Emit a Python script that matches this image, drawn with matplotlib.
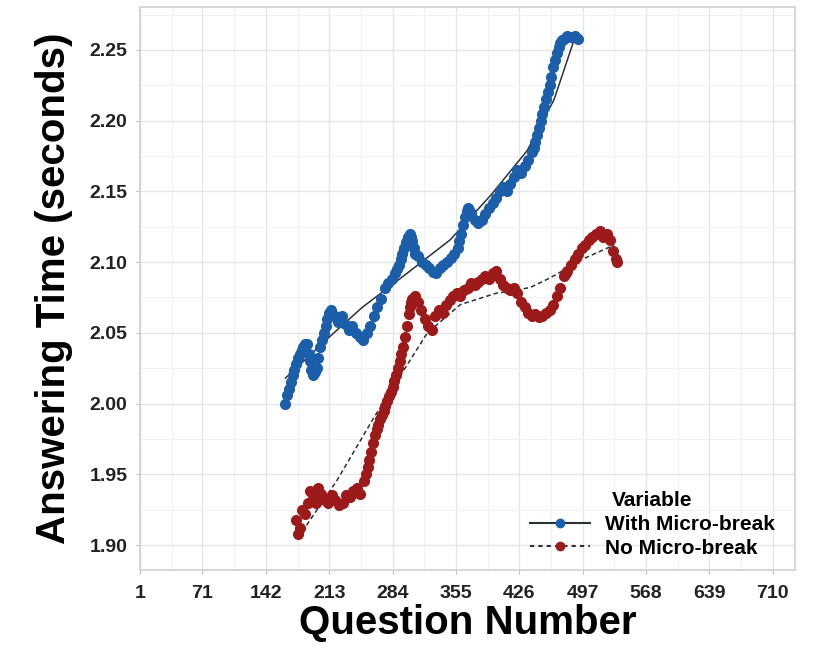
import numpy as np
import matplotlib
matplotlib.use("Agg")
import matplotlib.pyplot as plt
from matplotlib.ticker import FixedLocator
from matplotlib.lines import Line2D

plt.rcParams['font.family'] = ['Liberation Sans', 'DejaVu Sans']
plt.rcParams['font.weight'] = 'bold'

# With Micro-break (blue)
q_with = [164, 166, 168, 170, 172, 174, 176, 178, 180, 182, 184, 186, 188, 190, 191,
          193, 195, 197, 199, 201, 203, 205, 207, 209, 211, 213, 215, 219, 223, 227,
          231, 235, 239, 243, 247, 251, 255, 259, 263, 267, 271, 275, 279, 283, 287,
          289, 291, 293, 295, 297, 299, 301, 303, 305, 306, 308, 309, 313, 317, 321,
          325, 329, 333, 337, 341, 345, 349, 353, 357, 359, 361, 363, 365, 367, 368,
          370, 372, 376, 380, 384, 388, 392, 396, 400, 404, 408, 412, 416, 420, 424,
          428, 432, 436, 440, 442, 444, 446, 448, 450, 452, 454, 456, 458, 460, 462,
          464, 466, 468, 470, 472, 474, 476, 480, 484, 488, 492]
t_with = [2.000, 2.006, 2.010, 2.015, 2.020, 2.024, 2.028, 2.032, 2.035, 2.038, 2.040,
          2.042, 2.042, 2.035, 2.030, 2.024, 2.020, 2.022, 2.025, 2.032, 2.040, 2.045,
          2.050, 2.055, 2.060, 2.064, 2.066, 2.062, 2.058, 2.062, 2.056, 2.052, 2.055,
          2.050, 2.047, 2.045, 2.050, 2.055, 2.062, 2.068, 2.074, 2.082, 2.085, 2.088,
          2.092, 2.095, 2.098, 2.102, 2.106, 2.110, 2.114, 2.118, 2.120, 2.118, 2.115,
          2.110, 2.106, 2.104, 2.100, 2.098, 2.096, 2.093, 2.092, 2.096, 2.098, 2.100,
          2.103, 2.106, 2.110, 2.115, 2.120, 2.126, 2.132, 2.136, 2.138, 2.137, 2.135,
          2.130, 2.128, 2.130, 2.134, 2.138, 2.142, 2.145, 2.150, 2.153, 2.150, 2.155,
          2.160, 2.165, 2.163, 2.168, 2.172, 2.178, 2.181, 2.185, 2.190, 2.195, 2.200,
          2.205, 2.210, 2.215, 2.220, 2.225, 2.231, 2.238, 2.243, 2.248, 2.252, 2.255,
          2.257, 2.258, 2.260, 2.259, 2.260, 2.258]

# No Micro-break (red)
q_no = [176, 178, 180, 183, 186, 189, 192, 195, 198, 201, 204, 208, 212, 216, 220,
        224, 228, 232, 236, 240, 244, 248, 252, 254, 256, 258, 260, 262, 264, 266,
        268, 270, 272, 274, 276, 278, 280, 282, 284, 286, 288, 290, 292, 294, 296,
        298, 300, 302, 303, 305, 306, 309, 312, 316, 320, 324, 328, 332, 336, 340,
        344, 348, 352, 356, 360, 364, 368, 372, 376, 380, 384, 388, 392, 396, 400,
        404, 408, 412, 416, 420, 424, 428, 432, 436, 440, 444, 448, 452, 456, 460,
        464, 468, 472, 476, 478, 480, 484, 488, 492, 496, 500, 504, 508, 512, 516,
        520, 524, 528, 531, 534, 536]
t_no = [1.918, 1.908, 1.912, 1.925, 1.922, 1.930, 1.938, 1.935, 1.930, 1.940, 1.936,
        1.932, 1.930, 1.935, 1.932, 1.928, 1.930, 1.935, 1.934, 1.938, 1.940, 1.936,
        1.945, 1.950, 1.955, 1.960, 1.966, 1.972, 1.978, 1.982, 1.985, 1.989, 1.992,
        1.995, 1.998, 2.002, 2.005, 2.008, 2.012, 2.016, 2.020, 2.025, 2.030, 2.035,
        2.040, 2.047, 2.055, 2.063, 2.068, 2.072, 2.074, 2.076, 2.072, 2.066, 2.060,
        2.055, 2.052, 2.062, 2.066, 2.064, 2.070, 2.073, 2.076, 2.078, 2.076, 2.080,
        2.082, 2.085, 2.084, 2.086, 2.088, 2.090, 2.088, 2.092, 2.094, 2.088, 2.084,
        2.082, 2.080, 2.082, 2.078, 2.072, 2.068, 2.064, 2.062, 2.063, 2.061, 2.062,
        2.064, 2.066, 2.070, 2.076, 2.082, 2.090, 2.092, 2.094, 2.098, 2.102, 2.106,
        2.110, 2.112, 2.116, 2.118, 2.120, 2.122, 2.118, 2.120, 2.116, 2.108, 2.102,
        2.100]

# smoothed trend lines
trend_with_q = [164, 213, 250, 300, 349, 395, 435, 465, 490]
trend_with_t = [2.018, 2.047, 2.068, 2.092, 2.116, 2.148, 2.179, 2.215, 2.262]
trend_no_q = [178, 222, 263, 304, 323, 360, 400, 438, 461, 500, 532]
trend_no_t = [1.905, 1.946, 1.990, 2.031, 2.050, 2.070, 2.078, 2.082, 2.089, 2.103, 2.112]

x_ticks = [1, 71, 142, 213, 284, 355, 426, 497, 568, 639, 710]
y_ticks = [1.90, 1.95, 2.00, 2.05, 2.10, 2.15, 2.20, 2.25]

blue = '#1b5ea9'
red = '#9c1a1a'
dark = '#2b2f3a'

fig = plt.figure(figsize=(8.15, 6.59), dpi=100)
ax = fig.add_axes([0.1718, 0.135, 0.8037, 0.8544])

ax.plot(trend_with_q, trend_with_t, '-', color=dark, lw=1.1, zorder=2)
ax.plot(trend_no_q, trend_no_t, color=dark, lw=1.1, ls=(0, (3, 2)), zorder=2)
ax.plot(q_with, t_with, 'o', color=blue, ms=7, mec=blue, zorder=3)
ax.plot(q_no, t_no, 'o', color=red, ms=7, mec=red, zorder=3)

ax.set_xlim(1, 735)
ax.set_ylim(1.8823, 2.2804)
ax.xaxis.set_major_locator(FixedLocator(x_ticks))
ax.xaxis.set_minor_locator(FixedLocator([v + 35.5 for v in x_ticks]))
ax.yaxis.set_major_locator(FixedLocator(y_ticks))
ax.yaxis.set_minor_locator(FixedLocator([v + 0.025 for v in y_ticks]))
ax.set_yticklabels(['%.2f' % v for v in y_ticks])

ax.grid(True, which='major', color='#e6e6e6', lw=1.0)
ax.grid(True, which='minor', color='#f2f2f2', lw=0.8)
ax.set_axisbelow(True)
for s in ax.spines.values():
    s.set_color('#d0d0d0')
    s.set_linewidth(1.2)
ax.tick_params(which='major', length=3, color='#bdbdbd', labelsize=14, pad=6)
ax.tick_params(axis='x', which='major', pad=8)
ax.tick_params(which='minor', length=0)
for lab in ax.get_xticklabels() + ax.get_yticklabels():
    lab.set_fontweight('bold')
    lab.set_color('#222222')

ax.set_xlabel('Question Number', fontsize=29, fontweight='bold', labelpad=1)
ax.set_ylabel('Answering Time (seconds)', fontsize=29, fontweight='bold', labelpad=12)

handles = [Line2D([], [], color=dark, lw=1.5, marker='o', ms=6, mfc=blue, mec=blue),
           Line2D([], [], color=dark, lw=1.5, ls=(0, (2, 2)), marker='o', ms=6, mfc=red, mec=red)]
leg = ax.legend(handles, ['With Micro-break', 'No Micro-break'], title='Variable',
                loc='lower right', bbox_to_anchor=(0.988, 0.0), frameon=False,
                fontsize=15, title_fontsize=15,
                handlelength=2.9, handletextpad=0.7, labelspacing=0.22,
                borderaxespad=0.3, borderpad=0.3)
leg.get_title().set_fontweight('bold')
for t in leg.get_texts():
    t.set_fontweight('bold')

fig.savefig('out.png', dpi=100)
